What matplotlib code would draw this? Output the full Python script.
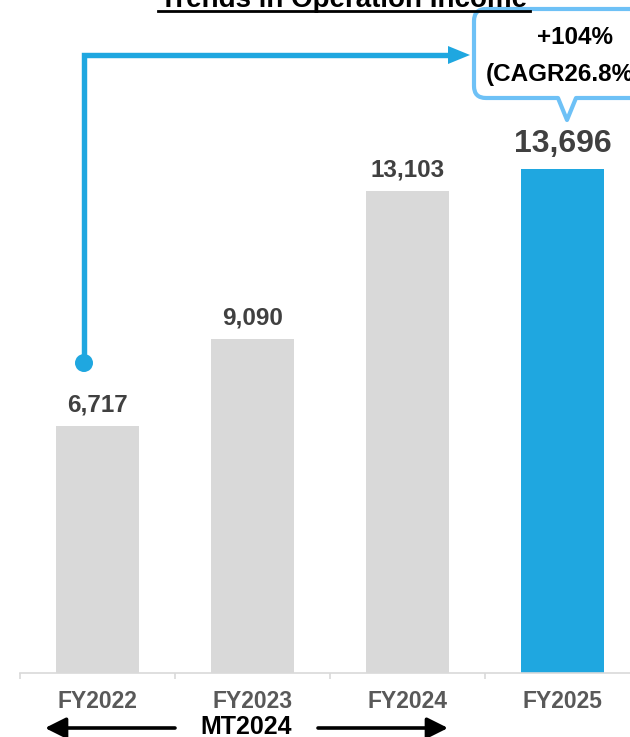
import matplotlib
matplotlib.use("Agg")
import matplotlib.pyplot as plt
import matplotlib.transforms as mtransforms
from matplotlib.path import Path
from matplotlib.patches import PathPatch, FancyArrowPatch, Circle

plt.rcParams["font.family"] = ["Liberation Sans", "DejaVu Sans"]

# Operating income by fiscal year
years = ["FY2022", "FY2023", "FY2024", "FY2025"]
income = [6717, 9090, 13103, 13696]
bar_colors = ["#D9D9D9", "#D9D9D9", "#D9D9D9", "#1FA7E0"]
title = "Trends in Operation Income"
growth_text = "+104%"
cagr_text = "(CAGR26.8%)"
period_text = "MT2024"

W, H = 630, 737
fig = plt.figure(figsize=(W / 100, H / 100), dpi=100)

# pixel helper transform (origin top-left)
px = mtransforms.Affine2D().scale(1 / W, -1 / H).translate(0, 1) + fig.transFigure

ax = fig.add_axes([20 / W, (H - 673) / H, 620 / W, 673 / H])
ax.set_xlim(-0.5, 3.5)
ax.set_ylim(0, 18290)

ax.bar(range(len(years)), income, width=0.53, color=bar_colors, zorder=2)

for i, v in enumerate(income):
    big = i == len(income) - 1
    ax.annotate(f"{v:,}", (i, v), xytext=(0, 12 if big else 10),
                textcoords="offset points", ha="center", va="baseline",
                fontsize=23 if big else 17.5, fontweight="bold", color="#404040")

for s in ["top", "right", "left"]:
    ax.spines[s].set_visible(False)
ax.spines["bottom"].set_color("#D9D9D9")
ax.spines["bottom"].set_linewidth(1.2)
ax.set_yticks([])
ax.set_xticks(range(len(years)))
ax.set_xticklabels(years, fontsize=16.5, fontweight="bold", color="#595959")
ax.tick_params(axis="x", which="major", length=0, pad=12)
ax.set_xticks([-0.5, 0.5, 1.5, 2.5, 3.5], minor=True)
ax.tick_params(axis="x", which="minor", length=4, width=1.2, color="#D9D9D9")

# title (partly above the canvas)
fig.text(344 / W, 1 - 7 / H, title, ha="center", va="baseline", fontsize=20,
         fontweight="bold", color="black")
fig.add_artist(plt.Line2D([158 / W, 530 / W], [1 - 10.5 / H, 1 - 10.5 / H],
                          transform=fig.transFigure, color="black", lw=2.0))

# growth bracket from FY2022 to the callout
blue = "#1FA7E0"
fig.add_artist(plt.Line2D([84, 84, 452], [363, 55, 55], transform=px,
                          color=blue, lw=3.9, solid_joinstyle="miter",
                          solid_capstyle="butt"))
fig.add_artist(PathPatch(Path([(448, 46), (470, 55), (448, 64), (448, 46)]),
                         transform=px, facecolor=blue, edgecolor="none"))
fig.add_artist(Circle((84, 363), 9, transform=px, facecolor=blue,
                      edgecolor="none"))

# speech-bubble callout
x0, y0, x1, y1, r = 474, 9, 660, 98, 12
verts = [
    (x0 + r, y0), (x1 - r, y0), (x1, y0), (x1, y0 + r),
    (x1, y1 - r), (x1, y1), (x1 - r, y1),
    (576, y1), (567, 120), (558, y1),
    (x0 + r, y1), (x0, y1), (x0, y1 - r),
    (x0, y0 + r), (x0, y0), (x0 + r, y0),
]
codes = [
    Path.MOVETO, Path.LINETO, Path.CURVE3, Path.CURVE3,
    Path.LINETO, Path.CURVE3, Path.CURVE3,
    Path.LINETO, Path.LINETO, Path.LINETO,
    Path.LINETO, Path.CURVE3, Path.CURVE3,
    Path.LINETO, Path.CURVE3, Path.CURVE3,
]
fig.add_artist(PathPatch(Path(verts, codes), transform=px, facecolor="white",
                         edgecolor="#6EC1F6", lw=3, joinstyle="round"))
fig.text(575 / W, 1 - 37 / H, growth_text, ha="center", va="center",
         fontsize=17.5, fontweight="bold", color="black")
fig.text(486 / W, 1 - 75 / H, cagr_text, ha="left", va="center",
         fontsize=17.5, fontweight="bold", color="black")

# mid-term plan span
fig.text(246 / W, 1 - 727 / H, period_text, ha="center", va="center",
         fontsize=18, fontweight="bold", color="black")
for a, b in [((175, 728), (45, 728)), ((318, 728), (448, 728))]:
    fig.add_artist(FancyArrowPatch(a, b, transform=px,
                                   arrowstyle="-|>,head_length=0.9,head_width=0.45",
                                   mutation_scale=14, lw=2.6, color="black",
                                   shrinkA=0, shrinkB=0))

fig.savefig("out.png", dpi=100)
